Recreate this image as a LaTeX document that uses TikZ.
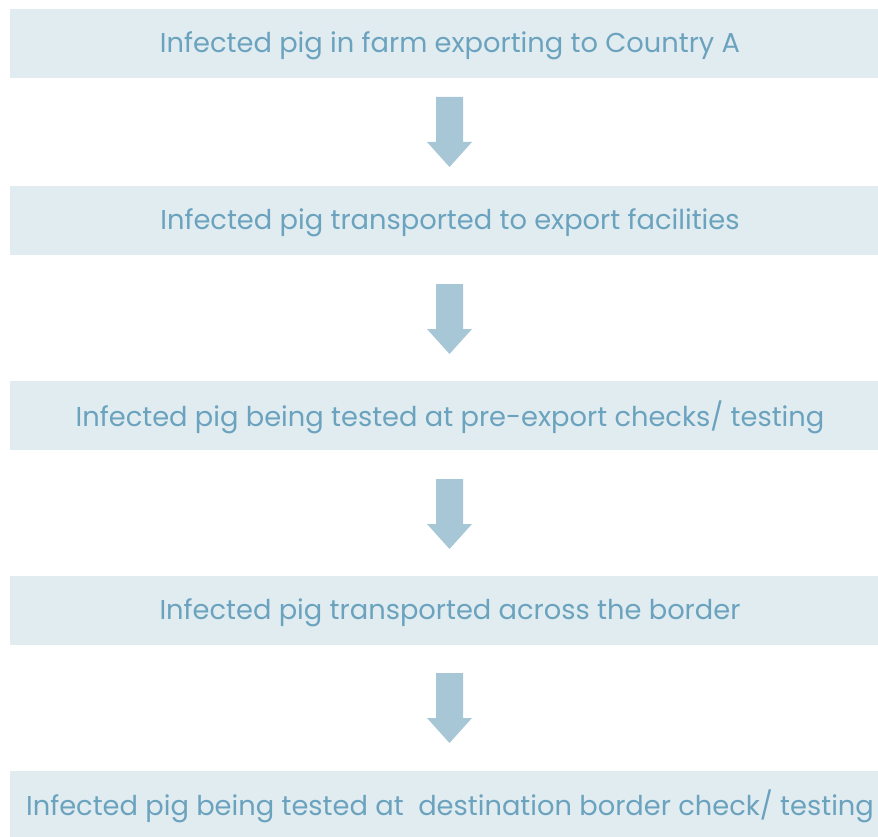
\documentclass[tikz,border=0pt]{standalone}
\usepackage{fontspec}
\setmainfont{Poppins}
\definecolor{boxfill}{HTML}{E1ECF1}
\definecolor{txtcol}{HTML}{6BA3BE}
\definecolor{arrcol}{HTML}{A7C7D7}
\tikzset{
  stagebox/.style={fill=boxfill, draw=none, minimum width=868pt, minimum height=69pt, inner sep=0pt},
  stagetext/.style={text=txtcol, font=\fontsize{27.3}{31}\selectfont, inner sep=0pt, anchor=center},
  downarrow/.pic={\fill[arrcol] (-13.5,0) -- (13.5,0) -- (13.5,45) -- (22.5,45) -- (0,70) -- (-22.5,45) -- (-13.5,45) -- cycle;}
}
\begin{document}
\begin{tikzpicture}[x=1pt,y=-1pt]
\useasboundingbox (0,0) rectangle (878,837);
\node[stagebox] (b1) at (444,43.5) {};
\node[stagebox] (b2) at (444,220.5) {};
\node[stagebox] (b3) at (444,415.5) {};
\node[stagebox] (b4) at (444,610.5) {};
\node[stagebox, minimum height=66pt] (b5) at (444,804) {};
\node[stagetext] (t1) at (450,45.5) {Infected pig in farm exporting to Country A};
\node[stagetext] (t2) at (450,222.5) {Infected pig transported to export facilities};
\node[stagetext] (t3) at (450,417.5) {Infected pig being tested at pre-export checks/ testing};
\node[stagetext] (t4) at (450,612.5) {Infected pig transported across the border};
\node[stagetext] (t5) at (450,806) {Infected pig being tested at\ \ destination border check/ testing};
\pic at (449.5,97) {downarrow};
\pic at (449.5,284) {downarrow};
\pic at (449.5,479) {downarrow};
\pic at (449.5,673) {downarrow};
\end{tikzpicture}
\end{document}
